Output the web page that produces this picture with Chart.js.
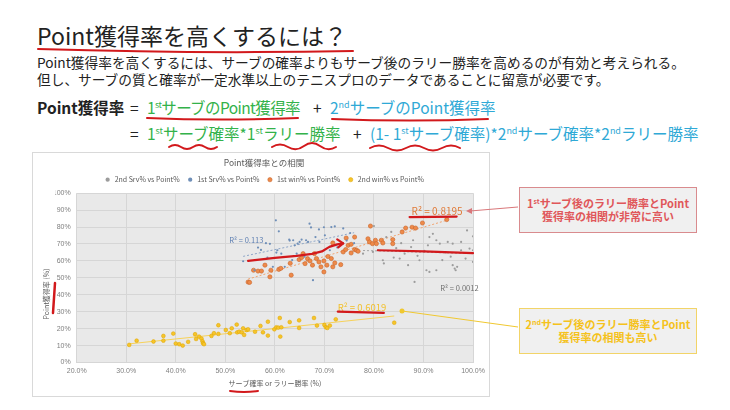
<!DOCTYPE html>
<html lang="ja">
<head>
<meta charset="utf-8">
<script src="https://cdn.jsdelivr.net/npm/chart.js@4.4.1/dist/chart.umd.min.js"></script>
<style>
  body { margin: 0; width: 730px; height: 410px; position: relative; overflow: hidden; background: #fff;
         font-family: "Noto Sans CJK JP", "Noto Sans", sans-serif; color: #222; }
  .abs { position: absolute; white-space: nowrap; }
  #title { left: 37px; top: 22px; font-size: 23px; line-height: 26px; }
  .para { left: 37px; font-size: 13.7px; line-height: 17px; }
  .eq { font-size: 15.5px; line-height: 20px; }
  .green { color: #33b24a; }
  .cyan { color: #2fa9d6; }
  sup { font-size: 9px; vertical-align: 6px; line-height: 0; }
  #chartBox { position: absolute; left: 32px; top: 152px; width: 458px; height: 245px;
              border: 1px solid #d9d9d9; box-sizing: border-box; background: #fff; }
  .note { position: absolute; left: 519px; width: 178px; height: 46px; box-sizing: border-box;
          background: #f0f0f0; display: flex; align-items: center; justify-content: center;
          text-align: center; font-size: 11px; font-weight: bold; line-height: 13px; }
  .note sup { font-size: 7px; vertical-align: 4px; }
  #pen { position: absolute; left: 0; top: 0; pointer-events: none; }
</style>
</head>
<body>
<div id="title" class="abs">Point獲得率を高くするには？</div>
<div class="abs para" style="top:54px">Point獲得率を高くするには、サーブの確率よりもサーブ後のラリー勝率を高めるのが有効と考えられる。</div>
<div class="abs para" style="top:71px">但し、サーブの質と確率が一定水準以上のテニスプロのデータであることに留意が必要です。</div>

<div class="abs eq" style="left:37px;top:97px;font-weight:bold">Point獲得率</div>
<div class="abs eq" style="left:130px;top:97px">=</div>
<div class="abs eq green" style="left:147px;top:97px;letter-spacing:-0.6px">1<sup>st</sup>サーブのPoint獲得率</div>
<div class="abs eq" style="left:313px;top:97px">+</div>
<div class="abs eq cyan" style="left:330px;top:97px">2<sup>nd</sup>サーブのPoint獲得率</div>

<div class="abs eq" style="left:130px;top:123px">=</div>
<div class="abs eq green" style="left:147px;top:123px">1<sup>st</sup>サーブ確率*1<sup>st</sup>ラリー勝率</div>
<div class="abs eq" style="left:353px;top:123px">+</div>
<div class="abs eq cyan" style="left:370px;top:123px">(1- 1<sup>st</sup>サーブ確率)*2<sup>nd</sup>サーブ確率*2<sup>nd</sup>ラリー勝率</div>

<div id="chartBox"><canvas id="corrChart"></canvas></div>

<div class="note" style="top:187px;border:1.5px solid #d98b8e;color:#e0575a"><span>1<sup>st</sup>サーブ後のラリー勝率とPoint<br>獲得率の相関が非常に高い</span></div>
<div class="note" style="top:308px;border:1.5px solid #f2d468;color:#f5c21c"><span>2<sup>nd</sup>サーブ後のラリー勝率とPoint<br>獲得率の相関も高い</span></div>

<svg id="pen" width="730" height="410" viewBox="0 0 730 410">
  <g fill="none" stroke="#d2191c" stroke-width="2" stroke-linecap="round">
    <path d="M38 49 Q200 54 353 51"/>
    <path d="M147 118 Q220 121 298 118"/>
    <path d="M332 119 Q410 122 488 119"/>
    <path d="M169 147 q6 -4 12 0 t12 0 t12 0 t12 0"/>
    <path d="M272 147 q8 -5 16 0 t16 -1 t16 0 t16 1"/>
    <path d="M370 148 q9 -5 18 0 t18 0 t18 0 t18 0 t18 0"/>
    <path d="M55 283 Q54 298 53 313" stroke-width="2.5"/>
    <path d="M230 391 Q244 393 258 391"/>
  </g>
  <line x1="518" y1="207" x2="470" y2="211" stroke="#d9777a" stroke-width="1"/>
  <path d="M466 211 L472 208 L472 214 Z" fill="#d9777a"/>
  <line x1="518" y1="327" x2="402" y2="311" stroke="#f0c830" stroke-width="1"/>
  <circle cx="402" cy="311" r="2.5" fill="#f0c830"/>
</svg>

<script>
// 2nd serve in % vs point won %
const srv2X = [77.8, 79.8, 80.0, 80.8, 81.8, 82.5, 83.5, 84.0, 85.2, 85.5, 86.2, 86.9, 87.5, 87.9, 88.2, 88.8, 89.2, 90.2, 90.6, 90.9, 91.2, 91.2, 91.9, 92.6, 92.6, 93.3, 93.8, 94.5, 94.9, 95.5, 95.9, 95.9, 96.3, 96.5, 96.8, 97.6, 97.6, 98.5, 99.3, 100, 100, 100, 98.8, 84.5, 82.0];
const srv2Y = [64.3, 65.3, 80.6, 66.3, 60.4, 74.0, 77.1, 62.0, 61.4, 70.5, 64.3, 57.5, 68.2, 72.2, 47.6, 63.0, 60.4, 66.0, 54.5, 69.2, 74.1, 53.5, 76.0, 72.2, 54.5, 70.2, 60.5, 65.0, 71.2, 62.5, 70.2, 57.5, 55.5, 54.5, 56.5, 71.2, 66.3, 61.4, 67.3, 66.3, 59.4, 74.5, 78.0, 67.5, 58.5];
// 1st serve in %
const srv1X = [53.6, 55.9, 56.6, 57.2, 58.2, 59.0, 59.6, 60.2, 60.3, 60.5, 60.8, 61.3, 62.0, 62.9, 63.0, 63.7, 64.0, 64.4, 64.6, 65.0, 65.4, 66.3, 66.7, 67.0, 67.3, 67.7, 68.2, 68.9, 69.0, 69.9, 70.1, 71.1, 71.4, 72.1, 72.6, 73.8, 74.5, 75.2, 76.0, 63.5, 66.0, 58.5];
const srv1Y = [59.8, 54.5, 67.9, 66.5, 70.5, 70.1, 56.5, 84.0, 64.9, 66.3, 77.5, 64.3, 56.5, 72.6, 72.0, 72.2, 69.2, 64.3, 70.2, 71.2, 72.6, 72.2, 71.2, 82.0, 79.8, 48.6, 74.1, 78.6, 71.2, 79.9, 75.1, 66.3, 80.0, 80.4, 68.0, 79.2, 72.0, 76.5, 70.5, 60.5, 62.5, 62.0];
// 1st serve rally win %
const win1X = [54.6, 54.9, 55.7, 56.6, 57.3, 58.0, 59.0, 59.2, 60.8, 61.2, 63.1, 63.3, 64.9, 65.4, 65.7, 66.1, 66.6, 67.1, 67.6, 68.0, 68.4, 68.9, 69.3, 69.9, 69.9, 70.5, 70.7, 71.4, 71.7, 72.1, 71.7, 73.3, 73.8, 74.3, 74.4, 74.8, 75.4, 75.4, 76.1, 76.1, 76.5, 76.8, 78.8, 79.1, 79.3, 79.7, 80.3, 80.5, 81.5, 81.8, 83.8, 83.8, 85.7, 86.4, 87.7, 88.4, 89.8, 94.7];
const win1Y = [47.5, 47.3, 54.5, 54.0, 54.0, 57.5, 50.6, 54.5, 55.0, 55.6, 58.6, 51.6, 60.8, 62.0, 64.3, 58.4, 61.3, 60.0, 57.5, 64.3, 61.4, 59.4, 56.5, 60.0, 53.5, 57.5, 62.6, 61.4, 56.5, 58.8, 70.6, 57.8, 65.3, 66.7, 73.5, 69.2, 69.8, 64.7, 74.1, 66.7, 66.3, 65.7, 73.1, 71.2, 80.6, 70.2, 72.2, 70.2, 72.2, 70.6, 72.6, 70.2, 77.1, 79.4, 79.9, 79.4, 82.4, 84.4];
// 2nd serve rally win % (y: share of points won)
const win2X = [30.6, 32.1, 35.5, 37.5, 37.5, 39.5, 40.0, 40.7, 41.4, 42.5, 43.9, 44.1, 44.7, 45.2, 45.4, 45.5, 45.7, 47.2, 47.7, 48.6, 48.6, 50.1, 50.9, 51.3, 52.3, 52.4, 52.8, 53.3, 53.6, 53.8, 54.3, 54.6, 56.0, 57.1, 57.6, 58.6, 58.6, 59.9, 60.3, 60.7, 61.0, 61.1, 61.3, 63.0, 64.9, 64.9, 67.9, 68.5, 70.0, 70.3, 70.6, 71.1, 72.3, 84.1];
const win2Y = [10.4, 12.9, 12.4, 15.7, 12.9, 17.1, 11.2, 10.8, 10.0, 12.2, 16.7, 13.9, 15.3, 14.1, 12.5, 11.4, 10.8, 15.7, 17.3, 22.0, 16.9, 19.2, 17.3, 20.2, 22.4, 17.8, 18.2, 17.8, 20.2, 16.3, 19.2, 19.6, 18.2, 21.6, 17.8, 24.1, 15.9, 19.6, 20.8, 20.6, 26.3, 15.3, 20.8, 23.9, 24.9, 20.4, 26.3, 21.8, 22.2, 20.8, 20.4, 21.8, 25.5, 23.5];

const seriesNames = ["2nd Srv% vs Point%", "1st Srv% vs Point%", "1st win% vs Point%", "2nd win% vs Point%"];
const r2Labels = ["R² = 0.0012", "R² = 0.113", "R² = 0.8195", "R² = 0.6019"];
const xTickLabels = ["20.0%", "30.0%", "40.0%", "50.0%", "60.0%", "70.0%", "80.0%", "90.0%", "100.0%"];
const yTickLabels = ["0%", "10%", "20%", "30%", "40%", "50%", "60%", "70%", "80%", "90%", "100%"];

function toPoints(xs, ys) {
  return xs.map((x, i) => ({ x: x, y: ys[i] }));
}

// linear trendline over the x range of the series
function trend(xs, ys) {
  const n = xs.length;
  const mx = xs.reduce((a, b) => a + b, 0) / n;
  const my = ys.reduce((a, b) => a + b, 0) / n;
  let sxy = 0, sxx = 0;
  for (let i = 0; i < n; i++) { sxy += (xs[i] - mx) * (ys[i] - my); sxx += (xs[i] - mx) ** 2; }
  const b = sxy / sxx, a = my - b * mx;
  const lo = Math.min(...xs), hi = Math.max(...xs);
  return [{ x: lo, y: a + b * lo }, { x: hi, y: a + b * hi }];
}

const jpFont = "'Noto Sans CJK JP', sans-serif";

// text labels and pen marks, in data units
const r2Pos = [
  { x: 93.4, y: 43.8, size: 7.5, color: "#6f6f6f" },
  { x: 50.8, y: 72.2, size: 7.5, color: "#5b7db1" },
  { x: 87.6, y: 89.2, size: 10, color: "#e07b39" },
  { x: 72.7, y: 32.4, size: 9.5, color: "#f2c12e" }
];
const penMarks = [
  [[87.2, 85.9], [96.7, 86.2]],
  [[54.6, 60.0], [60.0, 61.8], [64.4, 63.0], [67.5, 64.2], [69.5, 65.6], [71.0, 68.3], [72.6, 69.8], [73.8, 70.4]],
  [[80.8, 66.3], [90.0, 65.6], [100, 64.6]],
  [[72.7, 30.1], [82.0, 29.3]]
];
// y axis title sits a little below the middle of the axis, as in the original
const yTitle = { text: "Point獲得率 (%)", x: 13.5, y: 141 };

const notesPlugin = {
  id: "notes",
  beforeDraw(chart) {
    const { ctx, chartArea: a } = chart;
    ctx.save();
    ctx.fillStyle = "#e9e9e9";
    ctx.fillRect(a.left, a.top, a.right - a.left, a.bottom - a.top);
    ctx.restore();
  },
  afterDatasetsDraw(chart) {
    const { ctx, scales: { x, y } } = chart;
    ctx.save();
    r2Labels.forEach((t, i) => {
      const p = r2Pos[i];
      ctx.font = p.size + "px " + jpFont;
      ctx.fillStyle = p.color;
      ctx.textBaseline = "middle";
      ctx.fillText(t, x.getPixelForValue(p.x), y.getPixelForValue(p.y));
    });
    ctx.strokeStyle = "#d2191c";
    ctx.lineWidth = 2.2;
    ctx.lineCap = "round";
    ctx.lineJoin = "round";
    penMarks.forEach(m => {
      ctx.beginPath();
      m.forEach((pt, i) => {
        const px = x.getPixelForValue(pt[0]), py = y.getPixelForValue(pt[1]);
        if (i === 0) ctx.moveTo(px, py); else ctx.lineTo(px, py);
      });
      ctx.stroke();
    });
    // arrow head on the curved mark
    const c = penMarks[1];
    const hx = x.getPixelForValue(c[c.length - 1][0]), hy = y.getPixelForValue(c[c.length - 1][1]);
    ctx.beginPath();
    ctx.moveTo(hx - 6, hy - 4);
    ctx.lineTo(hx, hy);
    ctx.lineTo(hx - 5, hy + 4);
    ctx.stroke();
    ctx.restore();
  },
  afterDraw(chart) {
    const ctx = chart.ctx;
    ctx.save();
    ctx.translate(yTitle.x, yTitle.y);
    ctx.rotate(-Math.PI / 2);
    ctx.font = "7px " + jpFont;
    ctx.fillStyle = "#595959";
    ctx.textAlign = "center";
    ctx.textBaseline = "middle";
    ctx.fillText(yTitle.text, 0, 0);
    ctx.restore();
  }
};

const corrChart = new Chart(document.getElementById("corrChart"), {
  type: "scatter",
  data: {
    datasets: [
      { label: seriesNames[0], data: toPoints(srv2X, srv2Y), pointRadius: 1.1, backgroundColor: "#9c9c9c", borderWidth: 0 },
      { label: seriesNames[1], data: toPoints(srv1X, srv1Y), pointRadius: 1.1, backgroundColor: "#6f8fb8", borderWidth: 0 },
      { label: seriesNames[2], data: toPoints(win1X, win1Y), pointRadius: 2.1, backgroundColor: "#ee8a4a", borderColor: "#c9652a", borderWidth: 0.6 },
      { label: seriesNames[3], data: toPoints(win2X, win2Y), pointRadius: 1.9, backgroundColor: "#f6c42a", borderColor: "#dca500", borderWidth: 0.5 },
      { data: trend(srv2X, srv2Y), showLine: true, pointRadius: 0, borderColor: "#a5a5a5", borderWidth: 1, borderDash: [2, 2] },
      { data: trend(srv1X, srv1Y), showLine: true, pointRadius: 0, borderColor: "#8ea6c8", borderWidth: 1, borderDash: [2, 2] },
      { data: trend(win1X, win1Y), showLine: true, pointRadius: 0, borderColor: "#f2a36f", borderWidth: 1, borderDash: [2, 2] },
      { data: trend(win2X, win2Y), showLine: true, pointRadius: 0, borderColor: "#f7d25a", borderWidth: 1 }
    ]
  },
  options: {
    responsive: true,
    maintainAspectRatio: false,
    animation: false,
    layout: { padding: { left: 22, right: 16, top: 0, bottom: 0 } },
    plugins: {
      title: {
        display: true, text: "Point獲得率との相関", color: "#595959",
        font: { size: 8.5, weight: "normal", family: jpFont }, padding: { top: 5, bottom: 1 }
      },
      legend: {
        labels: {
          filter: item => item.datasetIndex < 4,
          usePointStyle: true, pointStyle: "circle", boxHeight: 3, boxWidth: 7, padding: 7,
          color: "#595959", font: { size: 7, family: jpFont }
        }
      },
      tooltip: { enabled: false }
    },
    scales: {
      x: {
        min: 20, max: 100,
        afterFit: s => { s.height = 33.5; },
        ticks: { stepSize: 10, padding: 4, color: "#7f7f7f", font: { size: 7 }, callback: (v, i) => xTickLabels[i] },
        grid: { color: "#d6d6d6", drawTicks: false },
        border: { display: false },
        title: { display: true, text: "サーブ確率 or ラリー勝率 (%)", color: "#595959",
                 font: { size: 7, family: jpFont }, padding: { top: 2, bottom: 8 } }
      },
      y: {
        min: 0, max: 100,
        afterFit: s => { s.width = 21.7; },
        ticks: { stepSize: 10, padding: 6, color: "#7f7f7f", font: { size: 7 }, callback: (v, i) => yTickLabels[i] },
        grid: { color: "#d6d6d6", drawTicks: false },
        border: { display: false }
      }
    }
  },
  plugins: [notesPlugin]
});
</script>
</body>
</html>
